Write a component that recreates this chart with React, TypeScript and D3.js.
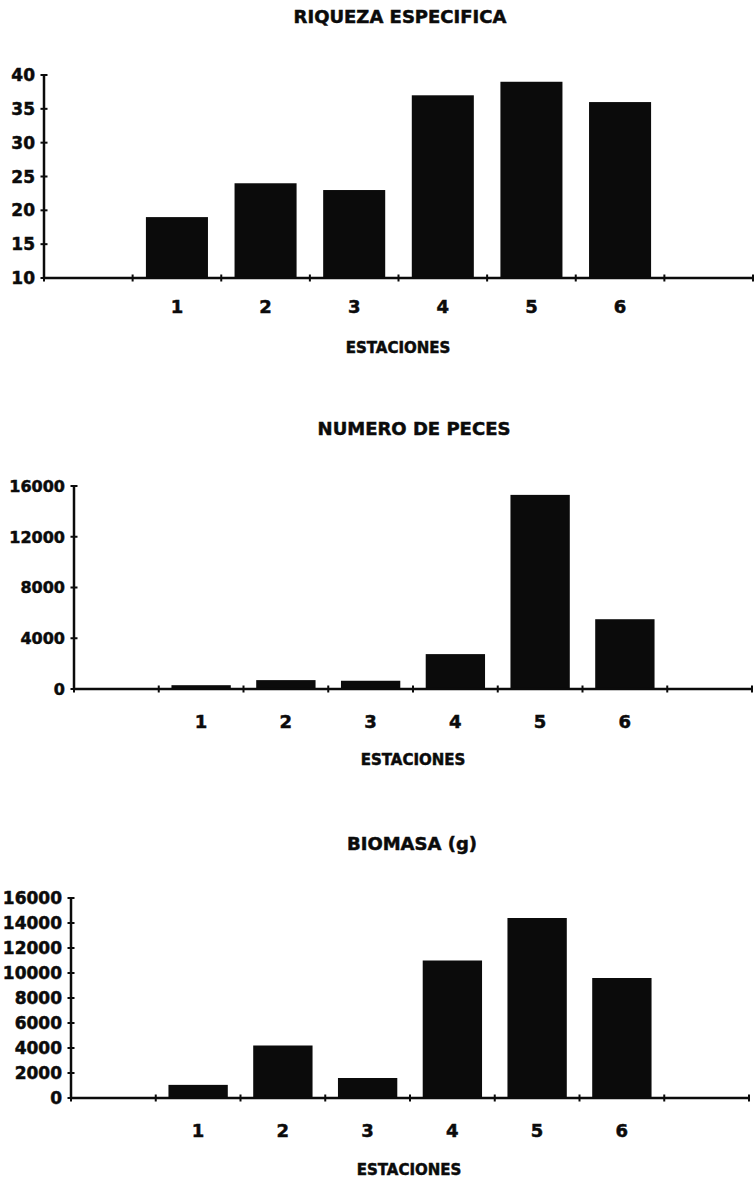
import React from "react";
import * as d3 from "d3";

// stations on the x axis; the two empty slots pad the ends like the original
const slots = ["", "1", "2", "3", "4", "5", "6", " "];
const stations = ["1", "2", "3", "4", "5", "6"];

const riquezaValues = [19, 24, 23, 37, 39, 36];
const riquezaTicks = [10, 15, 20, 25, 30, 35, 40];

const pecesValues = [300, 700, 650, 2750, 15300, 5500];
const pecesTicks = [0, 4000, 8000, 12000, 16000];

const biomasaValues = [1050, 4200, 1600, 11000, 14400, 9600];
const biomasaTicks = [0, 2000, 4000, 6000, 8000, 10000, 12000, 14000, 16000];

const FONT = "'DejaVu Sans', 'Liberation Sans', Arial, sans-serif";
const INK = "#0b0b0b";

// the scanned lettering is very heavy, a thin outline thickens the glyphs
const heavy = { stroke: INK, strokeWidth: 0.5 };

interface PanelProps {
  title: string;
  values: number[];
  ticks: number[];
  x0: number;
  x1: number;
  yTop: number;
  yBottom: number;
  titleX: number;
  titleY: number;
  catY: number;
  estX: number;
  estY: number;
  tickFont: number;
}

const Panel: React.FC<PanelProps> = ({
  title,
  values,
  ticks,
  x0,
  x1,
  yTop,
  yBottom,
  titleX,
  titleY,
  catY,
  estX,
  estY,
  tickFont,
}) => {
  const x = d3.scaleBand<string>().domain(slots).range([x0, x1]).padding(0);
  const y = d3
    .scaleLinear()
    .domain([ticks[0], ticks[ticks.length - 1]])
    .range([yBottom, yTop]);
  const bw = x.bandwidth();
  const barW = bw * 0.7;
  // band boundaries get the little cross ticks on the x axis
  const bounds = slots.map((s) => x(s) as number).concat([x1]);

  return (
    <g>
      <text
        x={titleX}
        y={titleY}
        textAnchor="middle"
        fontFamily={FONT}
        fontWeight="bold"
        fontSize={18}
        fill={INK}
        {...heavy}
      >
        {title}
      </text>

      {stations.map((s, i) => (
        <rect
          key={s}
          x={(x(s) as number) + (bw - barW) / 2}
          y={y(values[i])}
          width={barW}
          height={yBottom - y(values[i])}
          fill={INK}
        />
      ))}

      {/* y axis */}
      <line x1={x0} x2={x0} y1={yTop} y2={yBottom} stroke={INK} strokeWidth={2.5} />
      {ticks.map((t) => (
        <g key={t}>
          <line
            x1={x0 - 3.5}
            x2={x0 + 3.5}
            y1={y(t)}
            y2={y(t)}
            stroke={INK}
            strokeWidth={2}
          />
          <text
            x={x0 - 9}
            y={y(t)}
            dy="0.36em"
            textAnchor="end"
            fontFamily={FONT}
            fontWeight="bold"
            fontSize={tickFont}
            fill={INK}
            {...heavy}
          >
            {t}
          </text>
        </g>
      ))}

      {/* x axis */}
      <line x1={x0} x2={x1} y1={yBottom} y2={yBottom} stroke={INK} strokeWidth={2.5} />
      {bounds.map((b, i) => (
        <line
          key={i}
          x1={b}
          x2={b}
          y1={yBottom - 3.5}
          y2={yBottom + 3.5}
          stroke={INK}
          strokeWidth={2}
        />
      ))}
      {stations.map((s) => (
        <text
          key={s}
          x={(x(s) as number) + bw / 2}
          y={catY}
          textAnchor="middle"
          fontFamily={FONT}
          fontWeight="bold"
          fontSize={18}
          fill={INK}
          {...heavy}
        >
          {s}
        </text>
      ))}
      <text
        x={estX}
        y={estY}
        textAnchor="middle"
        fontFamily={FONT}
        fontWeight="bold"
        fontSize={15}
        fill={INK}
        {...heavy}
      >
        ESTACIONES
      </text>
    </g>
  );
};

export default function App() {
  return (
    <svg
      width={756}
      height={1179}
      style={{ position: "absolute", left: 0, top: 0, background: "#fff" }}
    >
      <Panel
        title="RIQUEZA ESPECIFICA"
        values={riquezaValues}
        ticks={riquezaTicks}
        x0={44}
        x1={753}
        yTop={75}
        yBottom={278}
        titleX={400}
        titleY={23}
        catY={313}
        estX={398}
        estY={353}
        tickFont={17}
      />
      <Panel
        title="NUMERO DE PECES"
        values={pecesValues}
        ticks={pecesTicks}
        x0={74}
        x1={752}
        yTop={486}
        yBottom={689}
        titleX={414}
        titleY={435}
        catY={728}
        estX={413}
        estY={765}
        tickFont={16}
      />
      <Panel
        title="BIOMASA (g)"
        values={biomasaValues}
        ticks={biomasaTicks}
        x0={71}
        x1={749}
        yTop={898}
        yBottom={1098}
        titleX={412}
        titleY={850}
        catY={1137}
        estX={409}
        estY={1175}
        tickFont={17}
      />
    </svg>
  );
}
